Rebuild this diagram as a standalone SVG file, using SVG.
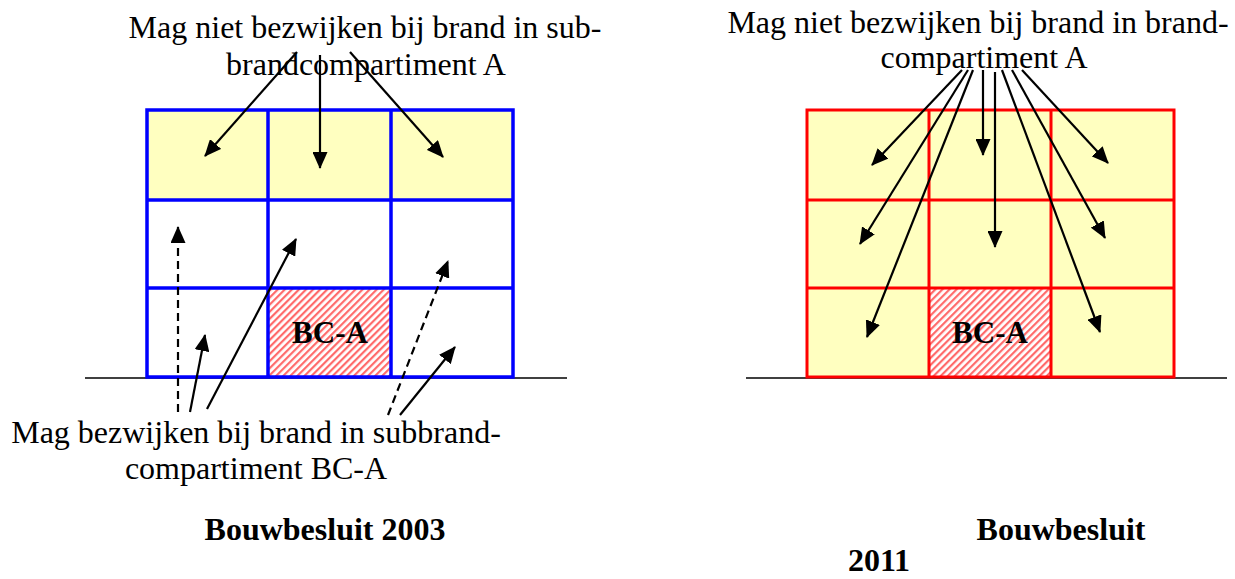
<svg xmlns="http://www.w3.org/2000/svg" width="1235" height="579" viewBox="0 0 1235 579">
<style>
text{font-family:"Liberation Serif","Times New Roman",serif;fill:#000}
.lbl{font-size:32px}
.b{font-weight:bold;font-size:32px}
.bc{font-weight:bold;font-size:31px}
.blue{fill:none;stroke:#0000ff;stroke-width:3.5}
.red{fill:none;stroke:#ff0000;stroke-width:3}
.ar{stroke:#000;stroke-width:2.2;fill:none;marker-end:url(#ah)}
.dash{stroke-dasharray:8 5}
.ground{stroke:#000;stroke-width:1.5}
</style>
<defs>
<marker id="ah" markerUnits="userSpaceOnUse" markerWidth="17" markerHeight="15" refX="16" refY="7.5" orient="auto" viewBox="0 0 17 15">
<path d="M0,0 L17,7.5 L0,15 Z" fill="#000"/>
</marker>
<pattern id="hatch" patternUnits="userSpaceOnUse" width="5" height="5" patternTransform="rotate(45)">
<rect width="5" height="5" fill="#fff"/>
<rect width="2.2" height="5" fill="#ff6a6a"/>
</pattern>
</defs>
<rect width="1235" height="579" fill="#fff"/>

<g id="left-building">
<line class="ground" x1="85" y1="378" x2="567" y2="378"/>
<rect x="147" y="110" width="366" height="90" fill="#ffffc0"/>
<rect x="268" y="288" width="123" height="89" fill="url(#hatch)"/>
<rect class="blue" x="147" y="110" width="366" height="267"/>
<line class="blue" x1="268" y1="110" x2="268" y2="377"/>
<line class="blue" x1="391" y1="110" x2="391" y2="377"/>
<line class="blue" x1="147" y1="200" x2="513" y2="200"/>
<line class="blue" x1="147" y1="288" x2="513" y2="288"/>
</g>
<g id="left-bca"><text class="bc" x="330" y="343" text-anchor="middle">BC-A</text></g>

<g id="right-building">
<line class="ground" x1="746" y1="378" x2="1227" y2="378"/>
<rect x="807" y="110" width="367" height="267" fill="#ffffc0"/>
<rect x="929" y="288" width="122" height="89" fill="url(#hatch)"/>
<rect class="red" x="807" y="110" width="367" height="267"/>
<line class="red" x1="929" y1="110" x2="929" y2="377"/>
<line class="red" x1="1051" y1="110" x2="1051" y2="377"/>
<line class="red" x1="807" y1="200" x2="1174" y2="200"/>
<line class="red" x1="807" y1="288" x2="1174" y2="288"/>
</g>
<g id="right-bca"><text class="bc" x="990" y="343" text-anchor="middle">BC-A</text></g>

<g id="label-top-left">
<text class="lbl" x="365" y="38" text-anchor="middle">Mag niet bezwijken bij brand in sub-</text>
<text class="lbl" x="366" y="75" text-anchor="middle">brandcompartiment A</text>
</g>
<g id="label-top-right">
<text class="lbl" x="978" y="33" text-anchor="middle">Mag niet bezwijken bij brand in brand-</text>
<text class="lbl" x="984" y="68" text-anchor="middle">compartiment A</text>
</g>
<g id="label-bottom-left">
<text class="lbl" x="256" y="443" text-anchor="middle">Mag bezwijken bij brand in subbrand-</text>
<text class="lbl" x="256" y="479" text-anchor="middle">compartiment BC-A</text>
</g>
<g id="title-left"><text class="b" x="325" y="540" text-anchor="middle">Bouwbesluit 2003</text></g>
<g id="title-right">
<text class="b" x="1061" y="540" text-anchor="middle">Bouwbesluit</text>
<text class="b" x="879" y="571" text-anchor="middle">2011</text>
</g>

<g id="connectors">
<line class="ar" x1="297" y1="52" x2="205" y2="156"/>
<line class="ar" x1="320" y1="55" x2="320" y2="168"/>
<line class="ar" x1="350" y1="52" x2="443" y2="157"/>
<line class="ar dash" x1="178" y1="412" x2="178" y2="227"/>
<line class="ar" x1="190" y1="412" x2="205" y2="335"/>
<line class="ar" x1="207" y1="409" x2="296" y2="239"/>
<line class="ar dash" x1="388" y1="415" x2="448" y2="261"/>
<line class="ar" x1="400" y1="415" x2="455" y2="347"/>

<line class="ar" x1="962" y1="70" x2="872" y2="165"/>
<line class="ar" x1="968" y1="70" x2="860" y2="244"/>
<line class="ar" x1="973" y1="70" x2="867" y2="337"/>
<line class="ar" x1="983" y1="70" x2="983" y2="155"/>
<line class="ar" x1="995" y1="72" x2="995" y2="247"/>
<line class="ar" x1="1002" y1="70" x2="1100" y2="332"/>
<line class="ar" x1="1012" y1="70" x2="1105" y2="238"/>
<line class="ar" x1="1022" y1="70" x2="1108" y2="163"/>
</g>
</svg>
